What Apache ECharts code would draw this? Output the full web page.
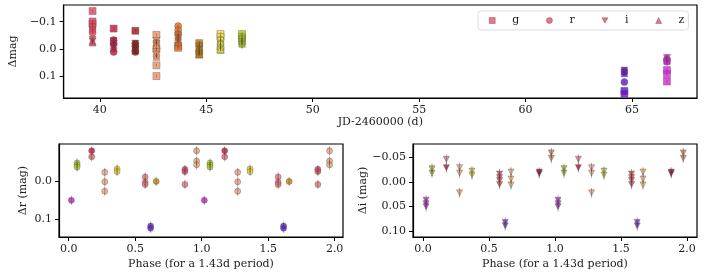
<!DOCTYPE html>
<html><head><meta charset="utf-8">
<script src="https://cdn.jsdelivr.net/npm/echarts@6/dist/echarts.min.js"></script>
<style>html,body{margin:0;padding:0;background:#fff}#c{width:707px;height:272px}</style>
</head><body><div id="c"></div>
<script>
// ---- top panel: light curve vs time ----
const epochs = [39.66, 40.65, 41.67, 42.66, 43.68, 44.67, 45.67, 46.68, 64.64, 66.64];
const epochColors = ['#e8405a','#d01040','#a81010','#f59060','#e86a20','#c87a00','#f0e040','#b0d010','#6a10d8','#e020e0'];
const gTop = [[-0.139,-0.101,-0.092],[-0.075],[-0.067],[-0.052,0.0,0.059,0.098],[-0.012,-0.005],[-0.022,0.02],[-0.055,-0.045,0.003],[-0.055,-0.045],[0.152,0.163],[0.076,0.091,0.118]];
const rTop = [[-0.083,-0.070,-0.061],[-0.033,-0.020,0.010],[-0.020,-0.010,0.005,0.010],[-0.025,0.0,0.025],[-0.084,-0.070,-0.055],[-0.015,0.0,0.010],[-0.035,-0.020,-0.005],[-0.040,-0.030,-0.020],[0.082,0.120],[0.038,0.046]];
const iTop = [[-0.035,-0.028],[-0.030,-0.020,-0.010],[-0.020,-0.010,0.0],[-0.030,-0.020,0.020],[-0.050,-0.040,-0.030],[-0.010,0.005,0.015],[-0.030,-0.015,-0.005],[-0.035,-0.025,-0.015],[0.078,0.085],[0.032,0.045]];
const zTop = [[-0.030,-0.024],[-0.025,-0.015,-0.005],[-0.015,-0.005,0.005],[-0.025,-0.015,0.028],[-0.045,-0.035,-0.025],[-0.005,0.008,0.018],[-0.025,-0.010,0.0],[-0.030,-0.020],[0.080,0.088],[0.030,0.042]];
const errTop = 0.006;
const jdTicks = [40, 45, 50, 55, 60, 65];
const magTicks = [-0.1, 0.0, 0.1];

// ---- bottom-left: r band folded ----
const rPhase = [0.020, 0.063, 0.173, 0.173, 0.271, 0.364, 0.575, 0.616, 0.658, 0.874, 0.874, 0.962];
const rPhaseColors = ['#c020c0','#b8d020','#c81030','#e06070','#f0a080','#e8d030','#e87070','#6020d0','#d08000','#e04060','#e87080','#f0a070'];
const rPhaseMag = [[0.051],[-0.048,-0.042,-0.037],[-0.080],[-0.064],[-0.023,0.002,0.027],[-0.032,-0.025],[-0.011,0.003,0.009],[0.119,0.125],[0.001],[-0.031,-0.025],[0.009],[-0.080,-0.053,-0.043]];
const errR = 0.012;

// ---- bottom-right: i band folded ----
const iPhase = [0.023, 0.068, 0.177, 0.177, 0.277, 0.371, 0.580, 0.623, 0.667, 0.881, 0.972];
const iPhaseColors = ['#b030c0','#a0b020','#e87088','#c01030','#f0a070','#c8c030','#d84050','#7030c0','#f0b060','#b01030','#d08050'];
const iPhaseMag = [[0.037,0.044,0.050],[-0.027,-0.018],[-0.046],[-0.029],[-0.029,-0.018,0.022],[-0.022,-0.014],[-0.016,-0.009,-0.003,0.005],[0.082,0.089],[-0.020,-0.006,0.006],[-0.020,-0.017],[-0.059,-0.048]];
const errI = 0.010;
const phaseTicks = [0, 0.5, 1.0, 1.5, 2.0];
const rTicks = [0.0, 0.1];
const iTicks = [-0.05, 0.0, 0.05, 0.10];

const FONT = 'DejaVu Serif';
const legendColor = '#e8506a';
const symI = 'path://M0,0L10,0L5,9Z';

function fmt(d){ return v => (v < -1e-9 ? '\u2212' : '') + Math.abs(v).toFixed(d); }

function pts(xs, vals, colors){
  const out = [];
  xs.forEach((x,k)=>vals[k].forEach(v=>out.push({value:[x,v], itemStyle:{color:colors[k]}})));
  return out;
}
function fold(arr){ // repeat at phase+1
  return arr.concat(arr.map(p=>({value:[p.value[0]+1, p.value[1]], itemStyle:p.itemStyle})));
}
function errSeries(xi, data, err){
  return {type:'custom', xAxisIndex:xi, yAxisIndex:xi, silent:true, z:3, clip:true,
    data: data.map(p=>p.value), encode:{x:0,y:1},
    renderItem:(params, api)=>{
      const x=api.value(0), y=api.value(1);
      const a=api.coord([x,y-err]), b=api.coord([x,y+err]);
      return {type:'line', shape:{x1:a[0],y1:a[1],x2:b[0],y2:b[1]}, style:{stroke:'#444', lineWidth:1, opacity:0.45}};
    }};
}
function scat(name, xi, data, symbol, size){
  return {type:'scatter', name, xAxisIndex:xi, yAxisIndex:xi, symbol, symbolSize:size, data, z:2,
    itemStyle:{color:legendColor, opacity:0.8, borderColor:'#555', borderWidth:0.5}};
}

const gD = pts(epochs, gTop, epochColors), rD = pts(epochs, rTop, epochColors),
      iD = pts(epochs, iTop, epochColors), zD = pts(epochs, zTop, epochColors);
const rF = fold(pts(rPhase, rPhaseMag, rPhaseColors));
const iF = fold(pts(iPhase, iPhaseMag, iPhaseColors));

const axisCommon = (ticks, d) => ({
  axisLine:{show:true, onZero:false, lineStyle:{color:'#000', width:1.2}},
  axisTick:{show:true, inside:false, length:4, customValues:ticks, lineStyle:{color:'#000', width:1}},
  axisLabel:{customValues:ticks, formatter:fmt(d), color:'#222', fontFamily:FONT, fontSize:11, margin:7},
  splitLine:{show:false},
  nameTextStyle:{fontFamily:FONT, fontSize:11, color:'#222'}
});

const option = {
  animation:false,
  textStyle:{fontFamily:FONT},
  grid:[
    {left:59, top:5, width:638, height:93, show:true, borderColor:'#000', borderWidth:1.2},
    {left:59, top:144, width:284, height:93, show:true, borderColor:'#000', borderWidth:1.2},
    {left:413, top:144, width:284, height:93, show:true, borderColor:'#000', borderWidth:1.2}
  ],
  xAxis:[
    Object.assign({type:'value', gridIndex:0, min:38.3, max:68.05, name:'JD-2460000 (d)', nameLocation:'middle', nameGap:17}, axisCommon(jdTicks,0)),
    Object.assign({type:'value', gridIndex:1, min:-0.073, max:2.063, name:'Phase (for a 1.43d period)', nameLocation:'middle', nameGap:22}, axisCommon(phaseTicks,1)),
    Object.assign({type:'value', gridIndex:2, min:-0.076, max:2.076, name:'Phase (for a 1.43d period)', nameLocation:'middle', nameGap:22}, axisCommon(phaseTicks,1))
  ],
  yAxis:[
    Object.assign({type:'value', gridIndex:0, inverse:true, min:-0.161, max:0.178, name:'\u0394mag', nameLocation:'middle', nameGap:38}, axisCommon(magTicks,1)),
    Object.assign({type:'value', gridIndex:1, inverse:true, min:-0.098, max:0.148, name:'\u0394r (mag)', nameLocation:'middle', nameGap:30}, axisCommon(rTicks,1)),
    Object.assign({type:'value', gridIndex:2, inverse:true, min:-0.077, max:0.1116, name:'\u0394i (mag)', nameLocation:'middle', nameGap:44}, axisCommon(iTicks,2))
  ],
  legend:{
    data:[{name:'g', icon:'rect'},{name:'r', icon:'circle'},{name:'i', icon:symI},{name:'z', icon:'triangle'}],
    left:478, top:11, orient:'horizontal', itemWidth:6, itemHeight:6, itemGap:27,
    padding:[4,4,4,11], borderColor:'#ddd', borderWidth:1, borderRadius:3, backgroundColor:'#fff',
    textStyle:{fontFamily:FONT, fontSize:11, color:'#222', padding:[0,0,0,12]},
    itemStyle:{borderColor:'#333', borderWidth:0.4}
  },
  series:[
    errSeries(0, gD.concat(rD, iD, zD), errTop),
    scat('g', 0, gD, 'rect', 7),
    scat('r', 0, rD, 'circle', 7),
    scat('i', 0, iD, symI, 7),
    scat('z', 0, zD, 'triangle', 7),
    errSeries(1, rF, errR),
    scat('rPhase', 1, rF, 'circle', 6),
    errSeries(2, iF, errI),
    scat('iPhase', 2, iF, symI, 6)
  ]
};
const chart = echarts.init(document.getElementById('c'), null, {renderer:'canvas'});
chart.setOption(option);
</script></body></html>
